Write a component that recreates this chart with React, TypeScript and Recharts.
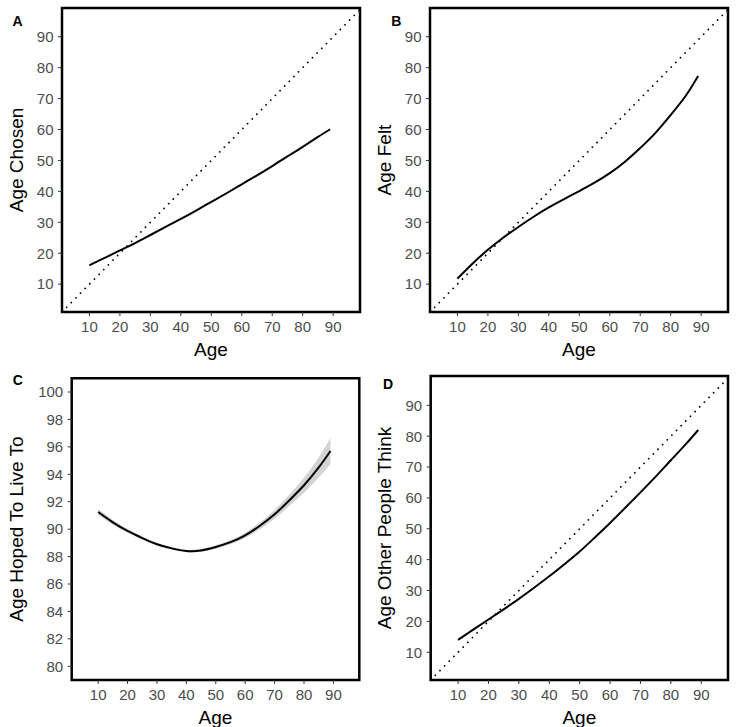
import React from 'react';
import {
  ComposedChart,
  Line,
  Area,
  XAxis,
  YAxis,
  ReferenceLine,
  ReferenceArea,
} from 'recharts';

// ---- data ----
const ages = [10, 15, 20, 25, 30, 35, 40, 45, 50, 55, 60, 65, 70, 75, 80, 85, 89];
const ageChosen = [16.1, 18.5, 20.9, 23.3, 25.9, 28.5, 31.1, 33.8, 36.6, 39.4, 42.3, 45.2, 48.2, 51.3, 54.4, 57.6, 60.1];
const ageFelt = [11.8, 16.7, 21.1, 25.0, 28.5, 31.8, 34.8, 37.5, 40.1, 42.8, 45.9, 49.6, 54.0, 58.9, 64.7, 71.0, 77.3];
const ageHoped = [91.25, 90.5, 89.87, 89.35, 88.9, 88.6, 88.41, 88.45, 88.7, 89.05, 89.55, 90.25, 91.08, 92.1, 93.2, 94.5, 95.7];
const ageHopedLow = [91.03, 90.33, 89.74, 89.24, 88.8, 88.51, 88.32, 88.35, 88.58, 88.9, 89.36, 90.0, 90.76, 91.68, 92.65, 93.76, 94.75];
const ageHopedHigh = [91.47, 90.67, 90.0, 89.46, 89.0, 88.69, 88.5, 88.55, 88.82, 89.2, 89.74, 90.5, 91.4, 92.52, 93.75, 95.24, 96.65];
const ageOthers = [14.0, 17.3, 20.6, 23.9, 27.3, 30.9, 34.6, 38.5, 42.6, 47.2, 51.9, 56.8, 61.8, 66.9, 72.2, 77.5, 82.0];

const xTicks = [10, 20, 30, 40, 50, 60, 70, 80, 90];
const ageTicks = [10, 20, 30, 40, 50, 60, 70, 80, 90];
const hopedTicks = [80, 82, 84, 86, 88, 90, 92, 94, 96, 98, 100];

const rows = ages.map((age, i) => ({
  age,
  chosen: ageChosen[i],
  felt: ageFelt[i],
  hoped: ageHoped[i],
  hopedLo: ageHopedLow[i],
  hopedHi: ageHopedHigh[i],
  others: ageOthers[i],
}));

const X_DOMAIN: [number, number] = [1, 98.8];
const Y_AXIS_W = 40;
const X_AXIS_H = 30;
const FONT = '"Liberation Sans", Arial, Helvetica, sans-serif';

type PanelProps = {
  left: number;
  top: number;
  width: number;
  height: number;
  margin: { top: number; right: number; bottom: number; left: number };
  dataKey: string;
  yDomain: [number, number];
  yTicks: number[];
  yTitle: string;
  letter: string;
  letterX: number;
  letterY: number;
  identity?: boolean;
  band?: boolean;
};

function Panel(p: PanelProps) {
  const plotL = p.margin.left + Y_AXIS_W;
  const plotR = p.width - p.margin.right;
  const plotT = p.margin.top;
  const plotB = p.height - p.margin.bottom - X_AXIS_H;
  const cx = (plotL + plotR) / 2;
  const cy = (plotT + plotB) / 2;

  const xTitle = () => (
    <text x={cx} y={plotB + 44} textAnchor="middle" fontSize={19} fill="#000" fontFamily={FONT}>
      Age
    </text>
  );
  const yTitle = () => (
    <g>
      <text
        x={23}
        y={cy}
        transform={`rotate(-90, 23, ${cy})`}
        textAnchor="middle"
        fontSize={19}
        fill="#000"
        fontFamily={FONT}
      >
        {p.yTitle}
      </text>
      <text
        x={p.letterX}
        y={p.letterY}
        style={{ fontSize: 14, fontWeight: 700 }}
        fill="#000"
        fontFamily={FONT}
      >
        {p.letter}
      </text>
    </g>
  );

  return (
    <div style={{ position: 'absolute', left: p.left, top: p.top }}>
      <ComposedChart width={p.width} height={p.height} data={rows} margin={p.margin}>
        <XAxis
          dataKey="age"
          type="number"
          domain={X_DOMAIN}
          allowDataOverflow
          ticks={xTicks}
          interval={0}
          height={X_AXIS_H}
          axisLine={false}
          tickLine={{ stroke: '#333', strokeWidth: 1 }}
          tickSize={4}
          tickMargin={5.6}
          tick={{ fill: '#4d4d4d', fontSize: 15, fontFamily: FONT }}
          label={xTitle}
        />
        <YAxis
          type="number"
          domain={p.yDomain}
          allowDataOverflow
          ticks={p.yTicks}
          interval={0}
          width={Y_AXIS_W}
          axisLine={false}
          tickLine={{ stroke: '#333', strokeWidth: 1 }}
          tickSize={4}
          tickMargin={4.5}
          tick={{ fill: '#4d4d4d', fontSize: 15, fontFamily: FONT }}
          label={yTitle}
        />
        {p.band && (
          <Area
            dataKey={(d: any) => [d.hopedLo, d.hopedHi]}
            type="natural"
            fill="#d3d3d3"
            fillOpacity={1}
            stroke="none"
            isAnimationActive={false}
          />
        )}
        {p.identity && (
          <ReferenceLine
            segment={[
              { x: X_DOMAIN[0], y: X_DOMAIN[0] },
              { x: X_DOMAIN[1], y: X_DOMAIN[1] },
            ]}
            stroke="#000"
            strokeWidth={1.8}
            strokeDasharray="0.01 6.6"
            strokeLinecap="round"
          />
        )}
        <Line
          dataKey={p.dataKey}
          type="natural"
          stroke="#000"
          strokeWidth={2}
          dot={false}
          isAnimationActive={false}
        />
        <ReferenceArea
          x1={X_DOMAIN[0]}
          x2={X_DOMAIN[1]}
          y1={p.yDomain[0]}
          y2={p.yDomain[1]}
          fill="none"
          fillOpacity={0}
          stroke="#000"
          strokeWidth={2.5}
        />
      </ComposedChart>
    </div>
  );
}

export default function App() {
  return (
    <div
      style={{
        position: 'absolute',
        left: 0,
        top: 0,
        width: 737,
        height: 727,
        background: '#fff',
        fontFamily: FONT,
        overflow: 'hidden',
      }}
    >
      <Panel
        left={0}
        top={0}
        width={368}
        height={363}
        margin={{ top: 8, right: 8, bottom: 21, left: 22 }}
        dataKey="chosen"
        yDomain={[1, 99.3]}
        yTicks={ageTicks}
        yTitle="Age Chosen"
        letter="A"
        letterX={12.5}
        letterY={26}
        identity
      />
      <Panel
        left={368}
        top={0}
        width={369}
        height={363}
        margin={{ top: 8, right: 9, bottom: 21, left: 22 }}
        dataKey="felt"
        yDomain={[1, 99.3]}
        yTicks={ageTicks}
        yTitle="Age Felt"
        letter="B"
        letterX={23.3}
        letterY={26}
        identity
      />
      <Panel
        left={0}
        top={363}
        width={368}
        height={364}
        margin={{ top: 15.3, right: 8.7, bottom: 17, left: 31.7 }}
        dataKey="hoped"
        yDomain={[79, 101]}
        yTicks={hopedTicks}
        yTitle="Age Hoped To Live To"
        letter="C"
        letterX={12.7}
        letterY={22}
        band
      />
      <Panel
        left={368}
        top={363}
        width={369}
        height={364}
        margin={{ top: 13, right: 9, bottom: 17, left: 22.7 }}
        dataKey="others"
        yDomain={[1, 99.5]}
        yTicks={ageTicks}
        yTitle="Age Other People Think"
        letter="D"
        letterX={15}
        letterY={26.3}
        identity
      />
    </div>
  );
}
